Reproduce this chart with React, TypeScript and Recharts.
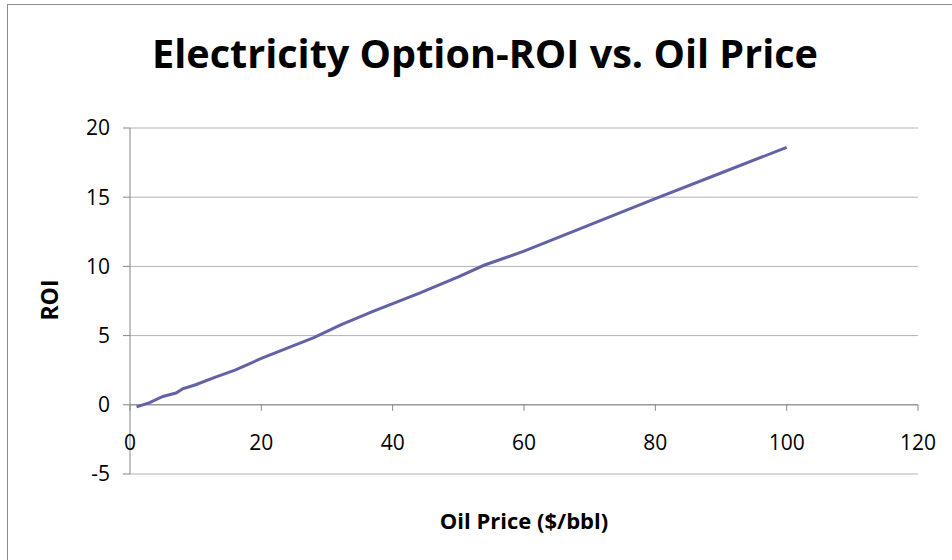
import React from 'react';
import { LineChart, Line, XAxis, YAxis, CartesianGrid, ReferenceLine } from 'recharts';

// Oil price ($/bbl) and the matching ROI
const oilPrices = [1, 3, 5, 7, 8, 10, 13, 16, 20, 25, 28, 32, 37, 44, 50, 54, 60, 70, 80, 90, 100];
const roiValues = [-0.15, 0.15, 0.6, 0.85, 1.15, 1.45, 2.0, 2.5, 3.35, 4.3, 4.85, 5.75, 6.75, 8.05, 9.25, 10.1, 11.1, 13.0, 14.9, 16.75, 18.6];

const xTicks = [0, 20, 40, 60, 80, 100, 120];
const yTicks = [-5, 0, 5, 10, 15, 20];

const data = oilPrices.map((price, i) => ({ price, roi: roiValues[i] }));

const W = 952;
const H = 560;
const PLOT_TOP = 128;
const PLOT_BOTTOM = 474;
const PLOT_LEFT = 130;
const PLOT_RIGHT = 918;
const Y_MIN = -5;
const Y_MAX = 20;
const Y_AXIS_W = 70;
const X_AXIS_H = 30;
// y pixel of the ROI = 0 line, where the category axis crosses
const zeroY = PLOT_TOP + ((Y_MAX - 0) / (Y_MAX - Y_MIN)) * (PLOT_BOTTOM - PLOT_TOP);

const FONT = '"Open Sans", "DejaVu Sans", sans-serif';
const AXIS_COLOR = '#868686';
const GRID_COLOR = '#b3b3b3';

const XTick = (props: any) => {
  const { x, payload } = props;
  return (
    <g>
      <line x1={x} x2={x} y1={zeroY} y2={zeroY + 6} stroke={AXIS_COLOR} />
      <text x={x} y={zeroY + 45} textAnchor="middle" fontSize={21} fontFamily={FONT} fill="#000">
        {payload.value}
      </text>
    </g>
  );
};

const App = () => {
  return (
    <div style={{ position: 'absolute', left: 0, top: 0, width: W, height: H, background: '#fff', overflow: 'hidden' }}>
      <div style={{ position: 'absolute', left: 7, top: 4, width: W, height: H, border: '1px solid #8c8c8c', boxSizing: 'border-box' }} />
      <LineChart
        width={W}
        height={H}
        data={data}
        margin={{ top: PLOT_TOP, right: W - PLOT_RIGHT, bottom: H - PLOT_BOTTOM - X_AXIS_H, left: PLOT_LEFT - Y_AXIS_W }}
        style={{ position: 'absolute', left: 0, top: 0 }}
      >
        <CartesianGrid vertical={false} stroke={GRID_COLOR} />
        <XAxis
          dataKey="price"
          type="number"
          domain={[0, 120]}
          ticks={xTicks}
          axisLine={false}
          tickLine={false}
          tick={<XTick />}
          height={X_AXIS_H}
          interval={0}
        />
        <YAxis
          type="number"
          domain={[Y_MIN, Y_MAX]}
          ticks={yTicks}
          width={Y_AXIS_W}
          stroke={AXIS_COLOR}
          tickSize={7}
          tickMargin={13}
          tick={{ fill: '#000', fontSize: 21, fontFamily: FONT }}
          interval={0}
        />
        <ReferenceLine y={0} stroke={AXIS_COLOR} />
        <Line
          type="linear"
          dataKey="roi"
          stroke="#6262a6"
          strokeWidth={3}
          dot={false}
          isAnimationActive={false}
        />
      </LineChart>
      <svg width={W} height={H} style={{ position: 'absolute', left: 0, top: 0, pointerEvents: 'none' }}>
        <text x={485} y={68} textAnchor="middle" fontSize={40} fontWeight="bold" fontFamily={FONT} textLength={666} lengthAdjust="spacingAndGlyphs" fill="#000">
          Electricity Option-ROI vs. Oil Price
        </text>
        <text x={58} y={300} textAnchor="middle" fontSize={23} fontWeight="bold" fontFamily={FONT} fill="#000" transform="rotate(-90 58 300)">
          ROI
        </text>
        <text x={524} y={529} textAnchor="middle" fontSize={22} fontWeight="bold" fontFamily={FONT} fill="#000">
          Oil Price ($/bbl)
        </text>
      </svg>
    </div>
  );
};

export default App;
